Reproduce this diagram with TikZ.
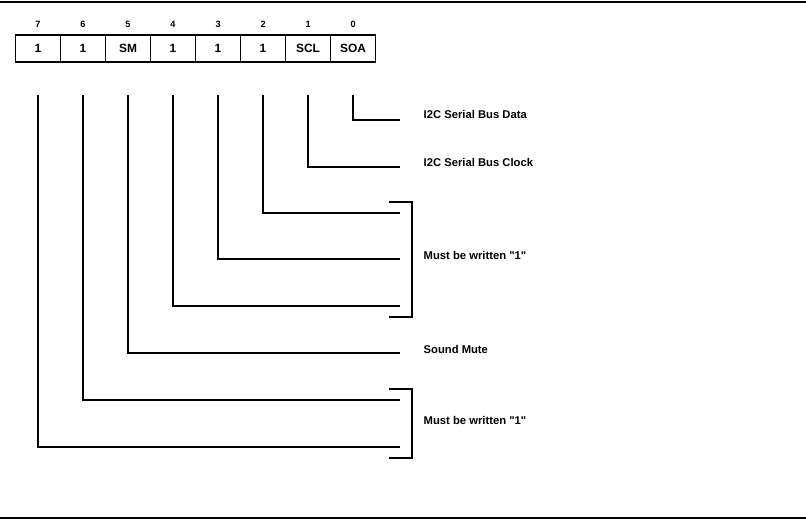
\documentclass[tikz,border=0pt]{standalone}
\usepackage{fontspec}
\setmainfont{Liberation Sans}
\usetikzlibrary{positioning}

\begin{document}
\begin{tikzpicture}[x=0.025cm,y=-0.025cm,line width=0.9pt,
        bitbox/.style={draw,outer sep=0pt,minimum width=1.125cm,minimum height=0.675cm,inner sep=0pt,font=\fontsize{8.5}{9}\selectfont\bfseries},
        bitnum/.style={inner sep=0pt,font=\fontsize{6.5}{7}\selectfont\bfseries},
        lbl/.style={anchor=west,inner sep=0pt,font=\fontsize{8}{9}\selectfont\bfseries}]
        \useasboundingbox (0,0) rectangle (806,520);
        \draw[line width=1.4pt] (0,2) -- (806,2);
        \draw[line width=1.2pt] (0,518) -- (806,518);

        \node[bitbox] (b7) at (38,48.5) {1};
        \node[bitbox,right=0pt of b7] (b6) {1};
        \node[bitbox,right=0pt of b6] (b5) {SM};
        \node[bitbox,right=0pt of b5] (b4) {1};
        \node[bitbox,right=0pt of b4] (b3) {1};
        \node[bitbox,right=0pt of b3] (b2) {1};
        \node[bitbox,right=0pt of b2] (b1) {SCL};
        \node[bitbox,right=0pt of b1] (b0) {SOA};

        \coordinate (numrow) at (0,24);
        \node[bitnum] (n7) at (b7 |- numrow) {7};
        \node[bitnum] (n6) at (b6 |- numrow) {6};
        \node[bitnum] (n5) at (b5 |- numrow) {5};
        \node[bitnum] (n4) at (b4 |- numrow) {4};
        \node[bitnum] (n3) at (b3 |- numrow) {3};
        \node[bitnum] (n2) at (b2 |- numrow) {2};
        \node[bitnum] (n1) at (b1 |- numrow) {1};
        \node[bitnum] (n0) at (b0 |- numrow) {0};

        % descriptions
        \node[lbl] (dat) at (423,114) {I2C Serial Bus Data};
        \node[lbl] (clk) at (423,162) {I2C Serial Bus Clock};
        \node[lbl] (must1) at (423,255) {Must be written \textquotedbl 1\textquotedbl};
        \node[lbl] (mute) at (423,349) {Sound Mute};
        \node[lbl] (must2) at (423,420) {Must be written \textquotedbl 1\textquotedbl};

        % wires from the bits
        \coordinate (top) at (0,95);
        \coordinate (e0) at (400,120);
        \coordinate (e1) at (400,167);
        \coordinate (e2) at (400,213);
        \coordinate (e3) at (400,259);
        \coordinate (e4) at (400,306);
        \coordinate (e5) at (400,353);
        \coordinate (e6) at (400,400);
        \coordinate (e7) at (400,447);
        \draw (b0 |- top) |- (e0);
        \draw (b1 |- top) |- (e1);
        \draw (b2 |- top) |- (e2);
        \draw (b3 |- top) |- (e3);
        \draw (b4 |- top) |- (e4);
        \draw (b5 |- top) |- (e5);
        \draw (b6 |- top) |- (e6);
        \draw (b7 |- top) |- (e7);

        % brackets
        \draw (389,202) -- (412,202) -- (412,317) -- (389,317);
        \draw (389,389) -- (412,389) -- (412,458) -- (389,458);
    \end{tikzpicture}
\end{document}
